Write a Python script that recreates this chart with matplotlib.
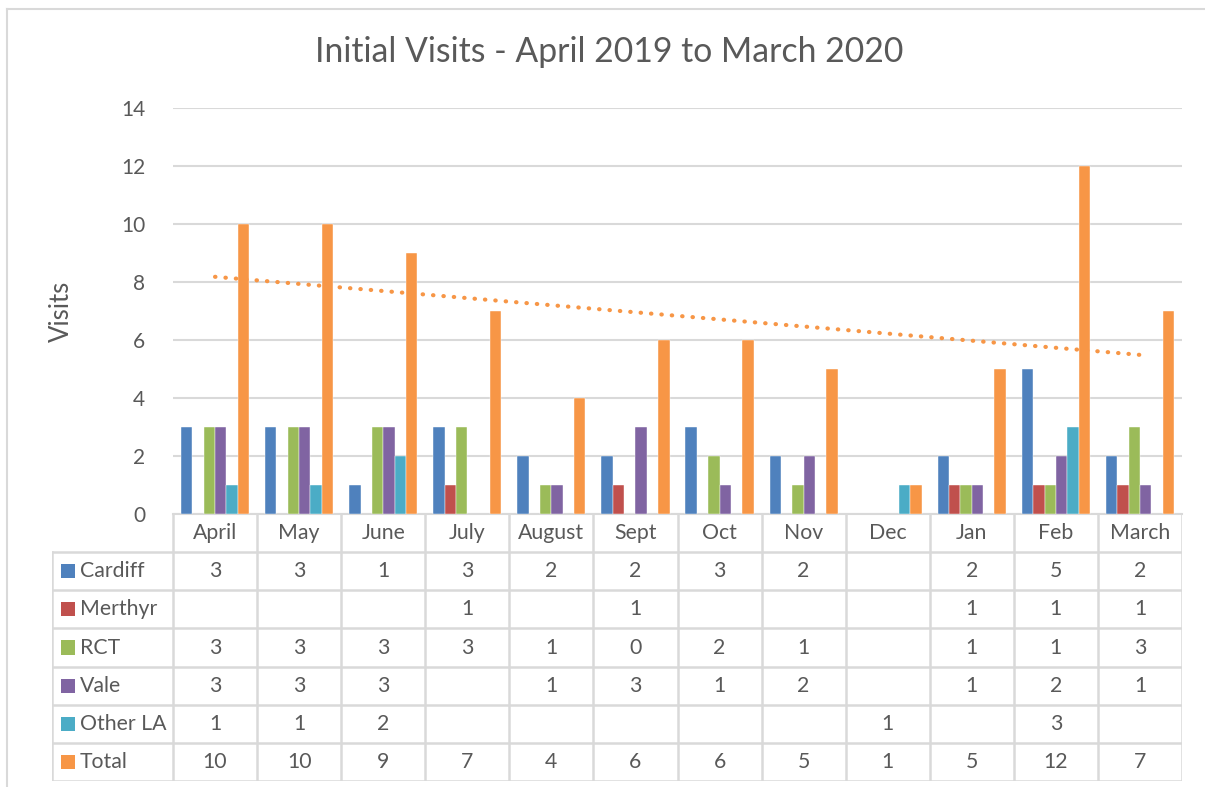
import numpy as np
import matplotlib
matplotlib.use("Agg")
import matplotlib.pyplot as plt
from matplotlib.patches import Rectangle
from matplotlib.lines import Line2D

months = ["April", "May", "June", "July", "August", "Sept", "Oct", "Nov", "Dec", "Jan", "Feb", "March"]
series_names = ["Cardiff", "Merthyr", "RCT", "Vale", "Other LA", "Total"]
nan = None
cardiff = [3, 3, 1, 3, 2, 2, 3, 2, nan, 2, 5, 2]
merthyr = [nan, nan, nan, 1, nan, 1, nan, nan, nan, 1, 1, 1]
rct = [3, 3, 3, 3, 1, 0, 2, 1, nan, 1, 1, 3]
vale = [3, 3, 3, nan, 1, 3, 1, 2, nan, 1, 2, 1]
other_la = [1, 1, 2, nan, nan, nan, nan, nan, 1, nan, 3, nan]
total = [10, 10, 9, 7, 4, 6, 6, 5, 1, 5, 12, 7]
colors = ["#4F81BD", "#C0504D", "#9BBB59", "#8064A2", "#4BACC6", "#F79646"]

all_series = [cardiff, merthyr, rct, vale, other_la, total]

plt.rcParams["font.family"] = ["Lato", "DejaVu Sans"]
TXT = "#595959"
GRID = "#D9D9D9"

W, H = 1205, 787
fig = plt.figure(figsize=(W / 100, H / 100), dpi=100)


def px_box(x0, y0, x1, y1):
    return [x0 / W, 1 - y1 / H, (x1 - x0) / W, (y1 - y0) / H]


# outer chart border
frame = fig.add_axes([0, 0, 1, 1])
frame.set_xlim(0, W)
frame.set_ylim(H, 0)
frame.axis("off")
frame.plot([7, W], [9, 9], color=GRID, lw=1.5)
frame.plot([7, 7], [9, H], color=GRID, lw=1.5)

ax = fig.add_axes(px_box(173, 108, 1182, 514))
x = np.arange(len(months))
bw = 0.135
for i, (name, vals, c) in enumerate(zip(series_names, all_series, colors)):
    v = np.array([np.nan if a is None else a for a in vals], dtype=float)
    ax.bar(x + (i - 2.5) * bw, v, width=bw, color=c, edgecolor="white", linewidth=0.3, zorder=3)

# linear trendline on Total
coef = np.polyfit(x, np.array(total, dtype=float), 1)
ax.plot(x, np.polyval(coef, x), color=colors[-1], lw=3.0, linestyle=(0, (0.1, 2.4)),
        dash_capstyle="round", zorder=4)

ax.set_xlim(-0.5, len(months) - 0.5)
ax.set_ylim(0, 14)
ax.set_yticks(range(0, 15, 2))
ax.yaxis.grid(True, color=GRID, lw=1.5, zorder=0)
ax.set_xticks([])
for s in ["top", "right", "left"]:
    ax.spines[s].set_visible(False)
ax.spines["bottom"].set_color(GRID)
ax.spines["bottom"].set_linewidth(1.5)
ax.tick_params(axis="y", length=0, labelsize=15, labelcolor=TXT, pad=20)
ax.set_ylabel("Visits", fontsize=18.5, color=TXT, labelpad=34)

fig.text(609 / W, 1 - 52 / H, "Initial Visits - April 2019 to March 2020", ha="center", va="center",
         fontsize=24.3, color=TXT)

# data table
unit = (1182 - 173) / len(months)
left_u = -0.5 - (173 - 52) / unit
tab = fig.add_axes(px_box(52, 514, 1182, 781))
tab.set_xlim(left_u, len(months) - 0.5)
tab.set_ylim(7, 0)
tab.axis("off")
lw = 1.8
for k in range(len(months) + 1):
    tab.add_line(Line2D([k - 0.5, k - 0.5], [0, 7], color=GRID, lw=lw))
tab.add_line(Line2D([left_u, left_u], [1, 7], color=GRID, lw=lw))
for r in range(1, 8):
    tab.add_line(Line2D([left_u, len(months) - 0.5], [r, r], color=GRID, lw=lw))

for j, m in enumerate(months):
    tab.text(j, 0.5, m, ha="center", va="center", fontsize=15.3, color=TXT)

key_w = 14 / unit
key_h = 14 / 38.1
for r, (name, vals, c) in enumerate(zip(series_names, all_series, colors), start=1):
    tab.add_patch(Rectangle((left_u + 9 / unit, r + 0.5 - key_h / 2), key_w, key_h, color=c, lw=0))
    tab.text(left_u + 28 / unit, r + 0.5, name, ha="left", va="center", fontsize=15.3, color=TXT)
    for j, v in enumerate(vals):
        if v is not None:
            tab.text(j, r + 0.5, str(v), ha="center", va="center", fontsize=15.3, color=TXT)

fig.savefig("out.png", dpi=100)
